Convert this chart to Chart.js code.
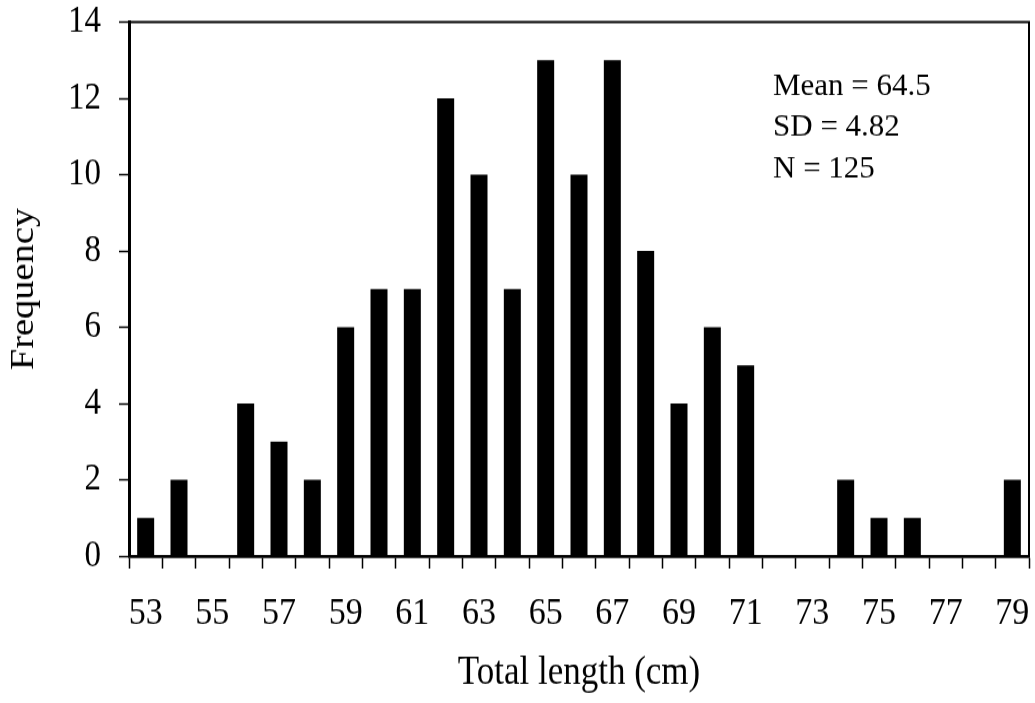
<!DOCTYPE html>
<html>
<head>
<meta charset="utf-8">
<title>Total length frequency</title>
<script src="https://cdn.jsdelivr.net/npm/chart.js@4.4.1/dist/chart.umd.min.js"></script>
<style>
  html, body { margin: 0; padding: 0; background: #fff; }
  /* drawing surface is rendered shorter and stretched to full height,
     which gives the tall serif lettering of the printed figure */
  #histo { display: block; width: 1035px !important; height: 703px !important; }
</style>
</head>
<body>
<canvas id="histo" width="1035" height="622" style="width:1035px;height:703px"></canvas>
<script>
// Length classes (cm) and number of fish in each
var lengths = [53, 54, 55, 56, 57, 58, 59, 60, 61, 62, 63, 64, 65, 66,
               67, 68, 69, 70, 71, 72, 73, 74, 75, 76, 77, 78, 79];
var frequencies = [1, 2, 0, 4, 3, 2, 6, 7, 7, 12, 10, 7, 13, 10,
                   13, 8, 4, 6, 5, 0, 0, 2, 1, 1, 0, 0, 2];
var yMin = 0, yMax = 14, yStep = 2;
var statsLines = ['Mean = 64.5', 'SD = 4.82', 'N = 125'];

var SERIF = '"Liberation Serif", "Times New Roman", serif';
var STRETCH = 703 / 622;

// top/right frame lines + summary stats box
var framePlugin = {
  id: 'frame',
  afterDraw: function(chart) {
    var a = chart.chartArea, ctx = chart.ctx;
    ctx.save();
    ctx.strokeStyle = '#000';
    ctx.lineWidth = 2;
    ctx.beginPath();
    ctx.moveTo(a.left, a.top);
    ctx.lineTo(a.right, a.top);
    ctx.lineTo(a.right, a.bottom);
    ctx.stroke();

    // stats text is not stretched: undo the vertical scale
    ctx.scale(1, 1 / STRETCH);
    ctx.fillStyle = '#000';
    ctx.font = '31px ' + SERIF;
    ctx.textBaseline = 'alphabetic';
    ctx.textAlign = 'left';
    var top = a.top * STRETCH;
    statsLines.forEach(function(t, i) {
      ctx.fillText(t, a.left + 644, top + 73 + i * 41);
    });
    ctx.restore();
  }
};

new Chart(document.getElementById('histo'), {
  type: 'bar',
  data: {
    labels: lengths,
    datasets: [{
      data: frequencies,
      backgroundColor: '#000',
      borderWidth: 0,
      categoryPercentage: 1,
      barPercentage: 0.51
    }]
  },
  options: {
    responsive: false,
    devicePixelRatio: 1,
    animation: false,
    layout: { padding: { top: 19.5, right: 6, left: 0, bottom: 0 } },
    plugins: {
      legend: { display: false },
      tooltip: { enabled: false }
    },
    scales: {
      x: {
        afterFit: function(s) {
          s.height = 130;
          s.paddingLeft = 0;
          s.paddingRight = 0;
        },
        grid: {
          display: true,
          drawOnChartArea: false,
          drawTicks: true,
          tickLength: 11,
          tickWidth: 1.5,
          color: '#000',
          offset: true
        },
        border: { color: '#000', width: 2.7 },
        ticks: {
          autoSkip: false,
          maxRotation: 0,
          padding: 19.5,
          color: '#000',
          font: { family: SERIF, size: 34 },
          callback: function(v, i) { return i % 2 === 0 ? lengths[i] : ''; }
        },
        title: {
          display: true,
          text: 'Total length (cm)',
          color: '#000',
          font: { family: SERIF, size: 35 },
          padding: { top: 0, bottom: 5 }
        }
      },
      y: {
        min: yMin,
        max: yMax,
        afterFit: function(s) {
          s.width = 129;
          s.paddingTop = 0;
          s.paddingBottom = 0;
        },
        grid: {
          display: true,
          drawOnChartArea: false,
          tickLength: 10,
          tickWidth: 1.5,
          color: '#000'
        },
        border: { color: '#000', width: 3 },
        ticks: {
          stepSize: yStep,
          padding: 18,
          color: '#000',
          font: { family: SERIF, size: 33 }
        },
        title: {
          display: true,
          text: 'Frequency',
          color: '#000',
          font: { family: SERIF, size: 34 },
          padding: { top: 4, bottom: 0 }
        }
      }
    }
  },
  plugins: [framePlugin]
});
</script>
</body>
</html>
